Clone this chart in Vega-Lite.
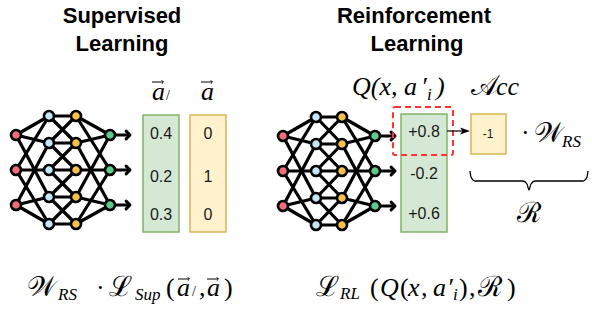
{
"$schema": "https://vega.github.io/schema/vega-lite/v6.json",
"width": 592, "height": 309, "padding": 0,
"autosize": {"type": "fit", "contains": "padding"},
"background": "white",
"config": {"view": {"stroke": null}},
"datasets": {
"edges": [
{"x":16,"y":135,"x2":49,"y2":116},{"x":16,"y":135,"x2":49,"y2":143},{"x":16,"y":135,"x2":49,"y2":197},
{"x":16,"y":170,"x2":49,"y2":116},{"x":16,"y":170,"x2":49,"y2":170},{"x":16,"y":170,"x2":49,"y2":224},
{"x":16,"y":205,"x2":49,"y2":143},{"x":16,"y":205,"x2":49,"y2":197},{"x":16,"y":205,"x2":49,"y2":224},
{"x":49,"y":116,"x2":76,"y2":116},{"x":49,"y":143,"x2":76,"y2":143},{"x":49,"y":170,"x2":76,"y2":170},{"x":49,"y":197,"x2":76,"y2":197},{"x":49,"y":224,"x2":76,"y2":224},
{"x":49,"y":116,"x2":76,"y2":143},{"x":49,"y":143,"x2":76,"y2":116},{"x":49,"y":143,"x2":76,"y2":170},{"x":49,"y":170,"x2":76,"y2":143},
{"x":49,"y":170,"x2":76,"y2":197},{"x":49,"y":197,"x2":76,"y2":170},{"x":49,"y":197,"x2":76,"y2":224},{"x":49,"y":224,"x2":76,"y2":197},
{"x":76,"y":116,"x2":110,"y2":135},{"x":76,"y":143,"x2":110,"y2":135},{"x":76,"y":197,"x2":110,"y2":135},
{"x":76,"y":116,"x2":110,"y2":170},{"x":76,"y":170,"x2":110,"y2":170},{"x":76,"y":224,"x2":110,"y2":170},
{"x":76,"y":143,"x2":110,"y2":205},{"x":76,"y":197,"x2":110,"y2":205},{"x":76,"y":224,"x2":110,"y2":205},
{"x":110,"y":135,"x2":129,"y2":135},{"x":110,"y":170,"x2":129,"y2":170},{"x":110,"y":205,"x2":129,"y2":205},
{"x":283,"y":136,"x2":316,"y2":117},{"x":283,"y":136,"x2":316,"y2":144},{"x":283,"y":136,"x2":316,"y2":198},
{"x":283,"y":171,"x2":316,"y2":117},{"x":283,"y":171,"x2":316,"y2":171},{"x":283,"y":171,"x2":316,"y2":225},
{"x":283,"y":206,"x2":316,"y2":144},{"x":283,"y":206,"x2":316,"y2":198},{"x":283,"y":206,"x2":316,"y2":225},
{"x":316,"y":117,"x2":342,"y2":117},{"x":316,"y":144,"x2":342,"y2":144},{"x":316,"y":171,"x2":342,"y2":171},{"x":316,"y":198,"x2":342,"y2":198},{"x":316,"y":225,"x2":342,"y2":225},
{"x":316,"y":117,"x2":342,"y2":144},{"x":316,"y":144,"x2":342,"y2":117},{"x":316,"y":144,"x2":342,"y2":171},{"x":316,"y":171,"x2":342,"y2":144},
{"x":316,"y":171,"x2":342,"y2":198},{"x":316,"y":198,"x2":342,"y2":171},{"x":316,"y":198,"x2":342,"y2":225},{"x":316,"y":225,"x2":342,"y2":198},
{"x":342,"y":117,"x2":375,"y2":136},{"x":342,"y":144,"x2":375,"y2":136},{"x":342,"y":198,"x2":375,"y2":136},
{"x":342,"y":117,"x2":375,"y2":171},{"x":342,"y":171,"x2":375,"y2":171},{"x":342,"y":225,"x2":375,"y2":171},
{"x":342,"y":144,"x2":375,"y2":206},{"x":342,"y":198,"x2":375,"y2":206},{"x":342,"y":225,"x2":375,"y2":206},
{"x":375,"y":136,"x2":394,"y2":136},{"x":375,"y":171,"x2":394,"y2":171},{"x":375,"y":206,"x2":394,"y2":206}
],
"heads": [
{"x":130,"y":135},{"x":130,"y":170},{"x":130,"y":205},{"x":395,"y":136},{"x":395,"y":171},{"x":395,"y":206}
],
"nodes": [
{"x":16,"y":135,"k":"in"},{"x":16,"y":170,"k":"in"},{"x":16,"y":205,"k":"in"},
{"x":49,"y":116,"k":"h1"},{"x":49,"y":143,"k":"h1"},{"x":49,"y":170,"k":"h1"},{"x":49,"y":197,"k":"h1"},{"x":49,"y":224,"k":"h1"},
{"x":76,"y":116,"k":"h2"},{"x":76,"y":143,"k":"h2"},{"x":76,"y":170,"k":"h2"},{"x":76,"y":197,"k":"h2"},{"x":76,"y":224,"k":"h2"},
{"x":110,"y":135,"k":"out"},{"x":110,"y":170,"k":"out"},{"x":110,"y":205,"k":"out"},
{"x":283,"y":136,"k":"in"},{"x":283,"y":171,"k":"in"},{"x":283,"y":206,"k":"in"},
{"x":316,"y":117,"k":"h1"},{"x":316,"y":144,"k":"h1"},{"x":316,"y":171,"k":"h1"},{"x":316,"y":198,"k":"h1"},{"x":316,"y":225,"k":"h1"},
{"x":342,"y":117,"k":"h2"},{"x":342,"y":144,"k":"h2"},{"x":342,"y":171,"k":"h2"},{"x":342,"y":198,"k":"h2"},{"x":342,"y":225,"k":"h2"},
{"x":375,"y":136,"k":"out"},{"x":375,"y":171,"k":"out"},{"x":375,"y":206,"k":"out"}
],
"boxes": [
{"x":143,"x2":179,"y":115,"y2":232,"k":"g"},{"x":190,"x2":226,"y":115,"y2":232,"k":"y"},
{"x":401,"x2":447,"y":114,"y2":232,"k":"g"},{"x":471,"x2":506,"y":114,"y2":154,"k":"y"}
],
"sel": [{"x":393,"x2":453,"y":107,"y2":155}],
"link": [{"x":447,"y":131,"x2":463,"y2":131}],
"linkhead": [{"x":465,"y":131}],
"vec": [
{"x":152,"y":82,"x2":163,"y2":82},{"x":201,"y":82,"x2":212,"y2":82},
{"x":178,"y":279,"x2":189,"y2":279},{"x":207,"y":279,"x2":218,"y2":279}
],
"vechead": [{"x":163.5,"y":82},{"x":212.5,"y":82},{"x":189.5,"y":279},{"x":218.5,"y":279}],
"brace": [
{"o":1,"x":470,"y":171},{"o":2,"x":471,"y":177},{"o":3,"x":475,"y":181},{"o":4,"x":523,"y":181},{"o":5,"x":527,"y":184},{"o":6,"x":529,"y":190},
{"o":7,"x":531,"y":184},{"o":8,"x":535,"y":181},{"o":9,"x":583,"y":181},{"o":10,"x":587,"y":177},{"o":11,"x":588,"y":171}
],
"texts": [
{"r":"title","x":122,"y":23,"t":"Supervised"},{"r":"title","x":122,"y":51,"t":"Learning"},
{"r":"title","x":414,"y":23,"t":"Reinforcement"},{"r":"title","x":417,"y":51,"t":"Learning"},
{"r":"val","x":161,"y":139,"t":"0.4"},{"r":"val","x":161,"y":182,"t":"0.2"},{"r":"val","x":161,"y":220,"t":"0.3"},
{"r":"val","x":208,"y":139,"t":"0"},{"r":"val","x":208,"y":182,"t":"1"},{"r":"val","x":208,"y":220,"t":"0"},
{"r":"val","x":424,"y":137,"t":"+0.8"},{"r":"val","x":424,"y":179,"t":"-0.2"},{"r":"val","x":424,"y":219,"t":"+0.6"},
{"r":"vals","x":488,"y":138,"t":"-1"},
{"r":"it","x":152,"y":100,"t":"a"},{"r":"pr","x":166,"y":100,"t":"/"},
{"r":"it","x":201,"y":100,"t":"a"},
{"r":"it","x":352,"y":95,"t":"Q(x, a"},{"r":"it","x":421,"y":95,"t":"′"},{"r":"sub","x":427,"y":100,"t":"i"},{"r":"it","x":436,"y":95,"t":")"},
{"r":"cal","x":471,"y":95,"t":"𝒜"},{"r":"it","x":496,"y":95,"t":"cc"},
{"r":"rm","x":521,"y":141,"t":"·"},{"r":"cal","x":534,"y":142,"t":"𝒲"},{"r":"sub","x":562,"y":147,"t":"RS"},
{"r":"cal","x":517,"y":222,"t":"ℛ"},
{"r":"cal","x":27,"y":296,"t":"𝒲"},{"r":"sub","x":58,"y":300,"t":"RS"},{"r":"rm","x":96,"y":296,"t":"·"},
{"r":"cal","x":109,"y":296,"t":"ℒ"},{"r":"sub","x":135,"y":300,"t":"Sup"},{"r":"rm","x":166,"y":296,"t":"("},
{"r":"it","x":177,"y":296,"t":"a"},{"r":"pr","x":192,"y":296,"t":"/"},
{"r":"rm","x":199,"y":296,"t":","},{"r":"it","x":207,"y":296,"t":"a"},{"r":"rm","x":224,"y":296,"t":")"},
{"r":"cal","x":316,"y":296,"t":"ℒ"},{"r":"sub","x":340,"y":299,"t":"RL"},{"r":"rm","x":370,"y":296,"t":"("},
{"r":"it","x":380,"y":296,"t":"Q"},{"r":"rm","x":400,"y":296,"t":"("},{"r":"it","x":408,"y":296,"t":"x"},{"r":"rm","x":421,"y":296,"t":","},
{"r":"it","x":433,"y":296,"t":"a"},{"r":"it","x":447,"y":296,"t":"′"},{"r":"sub","x":453,"y":300,"t":"i"},{"r":"rm","x":459,"y":296,"t":")"},
{"r":"rm","x":469,"y":296,"t":","},{"r":"cal","x":478,"y":296,"t":"ℛ"},{"r":"rm","x":507,"y":296,"t":")"}
]
},
"encoding": {
"x": {"field": "x", "type": "quantitative", "scale": {"domain": [0, 592], "nice": false, "zero": false}, "axis": null},
"y": {"field": "y", "type": "quantitative", "scale": {"domain": [0, 309], "nice": false, "zero": false, "reverse": true}, "axis": null}
},
"layer": [
{"data": {"name": "edges"}, "mark": {"type": "rule", "color": "black", "strokeWidth": 3.2, "strokeCap": "round"},
 "encoding": {"x2": {"field": "x2"}, "y2": {"field": "y2"}}},
{"data": {"name": "heads"}, "mark": {"type": "point", "shape": "M-1,-1L0,0L-1,1", "filled": false, "stroke": "black", "strokeWidth": 3, "strokeCap": "round", "strokeJoin": "round", "size": 60, "opacity": 1}},
{"data": {"name": "nodes"}, "mark": {"type": "point", "filled": true, "shape": "circle", "size": 100, "stroke": "black", "strokeWidth": 2.6, "opacity": 1},
 "encoding": {"fill": {"field": "k", "type": "nominal", "legend": null, "scale": {"domain": ["in", "h1", "h2", "out"], "range": ["#f26d7d", "#c5e6f6", "#f8c24a", "#5ccb8b"]}}}},
{"data": {"name": "boxes"}, "transform": [{"filter": "datum.k === 'g'"}], "mark": {"type": "rect", "strokeWidth": 1.5, "fill": "#d5e8d4", "stroke": "#82b366"},
 "encoding": {"x2": {"field": "x2"}, "y2": {"field": "y2"}}},
{"data": {"name": "boxes"}, "transform": [{"filter": "datum.k === 'y'"}], "mark": {"type": "rect", "strokeWidth": 1.5, "fill": "#fff2cc", "stroke": "#d6b656"},
 "encoding": {"x2": {"field": "x2"}, "y2": {"field": "y2"}}},
{"data": {"name": "sel"}, "mark": {"type": "rect", "fill": null, "fillOpacity": 0, "stroke": "#ff3333", "strokeWidth": 2, "strokeDash": [6, 4], "cornerRadius": 2},
 "encoding": {"x2": {"field": "x2"}, "y2": {"field": "y2"}}},
{"data": {"name": "link"}, "mark": {"type": "rule", "color": "black", "strokeWidth": 1.2},
 "encoding": {"x2": {"field": "x2"}, "y2": {"field": "y2"}}},
{"data": {"name": "linkhead"}, "mark": {"type": "point", "shape": "M1,0L-1,-0.7L-0.5,0L-1,0.7Z", "filled": true, "color": "black", "size": 100, "opacity": 1}},
{"data": {"name": "vec"}, "mark": {"type": "rule", "color": "black", "strokeWidth": 1},
 "encoding": {"x2": {"field": "x2"}, "y2": {"field": "y2"}}},
{"data": {"name": "vechead"}, "mark": {"type": "point", "shape": "M-1,-1L0,0L-1,1", "filled": false, "stroke": "black", "strokeWidth": 1, "size": 12, "opacity": 1}},
{"data": {"name": "brace"}, "mark": {"type": "line", "color": "black", "strokeWidth": 1.3, "interpolate": "monotone"},
 "encoding": {"order": {"field": "o", "type": "quantitative"}}},
{"data": {"name": "texts"}, "transform": [{"filter": "datum.r === 'title'"}],
 "mark": {"type": "text", "font": "Liberation Sans", "fontWeight": "bold", "fontSize": 22, "align": "center", "baseline": "alphabetic", "color": "black"},
 "encoding": {"text": {"field": "t"}}},
{"data": {"name": "texts"}, "transform": [{"filter": "datum.r === 'val'"}],
 "mark": {"type": "text", "font": "Liberation Sans", "fontSize": 16, "align": "center", "baseline": "alphabetic", "color": "#1a1a1a"},
 "encoding": {"text": {"field": "t"}}},
{"data": {"name": "texts"}, "transform": [{"filter": "datum.r === 'vals'"}],
 "mark": {"type": "text", "font": "Liberation Sans", "fontSize": 12, "align": "center", "baseline": "alphabetic", "color": "#1a1a1a"},
 "encoding": {"text": {"field": "t"}}},
{"data": {"name": "texts"}, "transform": [{"filter": "datum.r === 'it'"}],
 "mark": {"type": "text", "font": "Liberation Serif", "fontStyle": "italic", "fontSize": 26, "align": "left", "baseline": "alphabetic", "color": "black"},
 "encoding": {"text": {"field": "t"}}},
{"data": {"name": "texts"}, "transform": [{"filter": "datum.r === 'rm'"}],
 "mark": {"type": "text", "font": "Liberation Serif", "fontSize": 26, "align": "left", "baseline": "alphabetic", "color": "black"},
 "encoding": {"text": {"field": "t"}}},
{"data": {"name": "texts"}, "transform": [{"filter": "datum.r === 'cal'"}],
 "mark": {"type": "text", "font": "Liberation Serif", "fontSize": 28, "align": "left", "baseline": "alphabetic", "color": "black"},
 "encoding": {"text": {"field": "t"}}},
{"data": {"name": "texts"}, "transform": [{"filter": "datum.r === 'sub'"}],
 "mark": {"type": "text", "font": "Liberation Serif", "fontStyle": "italic", "fontSize": 17, "align": "left", "baseline": "alphabetic", "color": "black"},
 "encoding": {"text": {"field": "t"}}},
{"data": {"name": "texts"}, "transform": [{"filter": "datum.r === 'pr'"}],
 "mark": {"type": "text", "font": "Liberation Serif", "fontSize": 14, "align": "left", "baseline": "alphabetic", "color": "black"},
 "encoding": {"text": {"field": "t"}}}
]
}
